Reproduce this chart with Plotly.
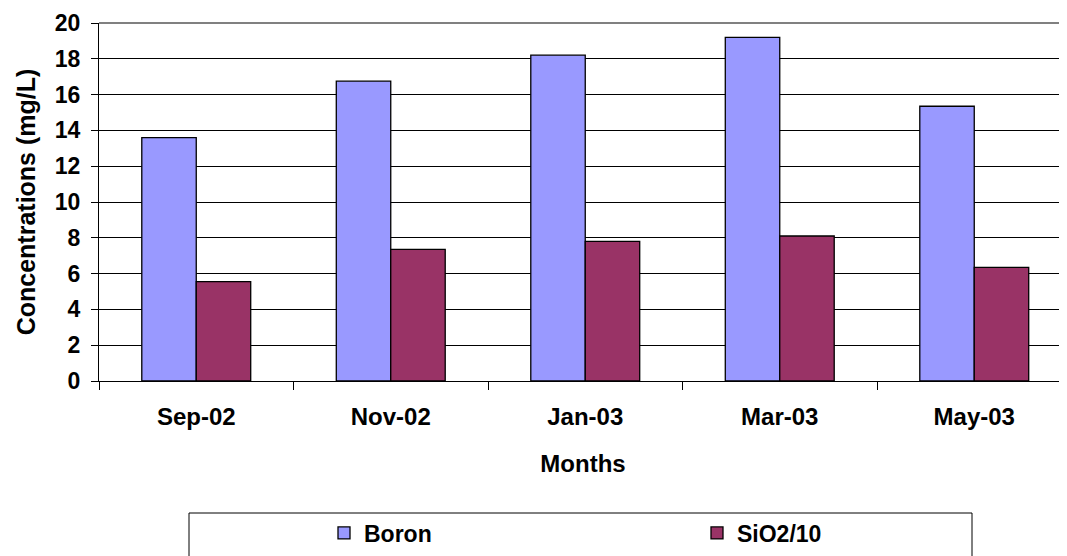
import plotly.graph_objects as go

months = ["Sep-02", "Nov-02", "Jan-03", "Mar-03", "May-03"]
boron = [13.6, 16.75, 18.2, 19.2, 15.35]
sio2_div10 = [5.55, 7.35, 7.8, 8.1, 6.35]
y_ticks = [0, 2, 4, 6, 8, 10, 12, 14, 16, 18, 20]

FONT = "Liberation Sans, Arial, sans-serif"

fig = go.Figure()
fig.add_trace(go.Bar(x=months, y=boron, name="Boron",
                     marker=dict(color="#9999FF", line=dict(color="black", width=1.3))))
fig.add_trace(go.Bar(x=months, y=sio2_div10, name="SiO2/10",
                     marker=dict(color="#993366", line=dict(color="black", width=1.3))))

# page body adds an 8px offset; compensate
OFF = 8
W, H = 1067, 556
L = 99 - OFF
T = 23 - OFF
plot_w = 1067 - 99
R = W - L - plot_w
B = H - (381 - OFF)
cat_w = 194.5
x_end = -0.5 + plot_w / cat_w
plot_h = H - T - B

def py(pixel):
    return (T + plot_h - (pixel - OFF)) / plot_h

def px(pixel):
    return ((pixel - OFF) - L) / plot_w

fig.update_layout(
    width=W, height=H,
    margin=dict(l=L, r=R, t=T, b=B, autoexpand=False),
    paper_bgcolor="white", plot_bgcolor="white",
    barmode="group", bargap=0.44, bargroupgap=0,
    font=dict(family=FONT, color="black", size=20, weight="bold"),
    showlegend=True,
    legend=dict(orientation="h", x=px(324), xanchor="left", y=py(533), yanchor="middle",
                bgcolor="rgba(0,0,0,0)", borderwidth=0, entrywidth=328, entrywidthmode="pixels",
                font=dict(size=23, family=FONT, weight="bold"), itemclick=False),
    xaxis=dict(type="category", range=[-0.5, x_end], showgrid=False,
               showline=True, linecolor="black", linewidth=1,
               ticks="outside", tickson="boundaries", ticklen=8, tickcolor="black", tickwidth=1,
               ticklabelstandoff=14,
               tickfont=dict(size=24, family=FONT, weight="bold"),
               title=dict(text="Months", font=dict(size=24, family=FONT, weight="bold"), standoff=26)),
    yaxis=dict(range=[0, 20], tickvals=y_ticks, showgrid=True, gridcolor="black", gridwidth=1,
               showline=True, linecolor="black", linewidth=1, zeroline=False,
               ticks="outside", ticklen=7, tickcolor="black", tickwidth=1,
               ticklabelstandoff=6,
               tickfont=dict(size=23, family=FONT, weight="bold"),
               title=dict(text="Concentrations (mg/L)", font=dict(size=25, family=FONT, weight="bold"), standoff=12)),
    shapes=[
        dict(type="line", xref="paper", yref="paper", x0=0, x1=1, y0=1, y1=1,
             line=dict(color="#808080", width=2), layer="above"),
        dict(type="rect", xref="paper", yref="paper", x0=px(189), x1=px(972), y0=py(513), y1=py(575),
             line=dict(color="black", width=1), fillcolor="rgba(0,0,0,0)", layer="above"),
    ],
)

fig.write_html("out.html")
